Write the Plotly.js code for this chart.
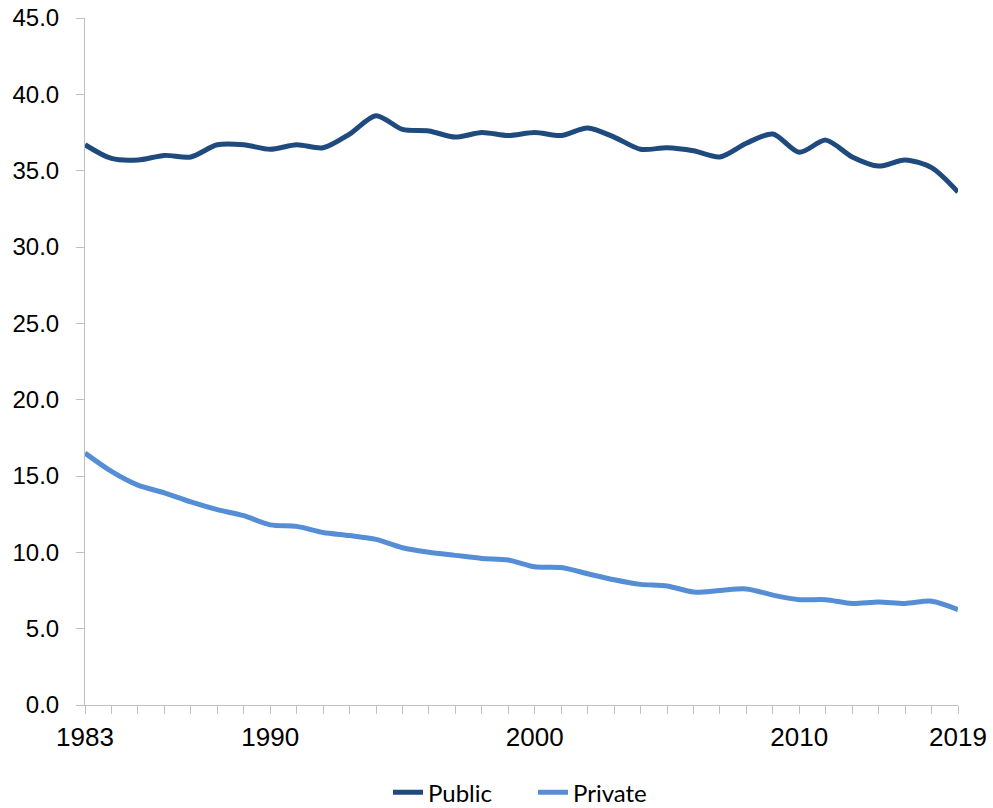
<!DOCTYPE html>
<html>
<head>
<meta charset="utf-8">
<script src="https://cdn.plot.ly/plotly-3.0.1.min.js"></script>
<style>html,body{margin:0;padding:0;background:#fff;}#chart{width:993px;height:808px;}</style>
</head>
<body>
<div id="chart"></div>
<script>
const categories = ['1983','1984','1985','1986','1987','1988','1989','1990','1991','1992','1993','1994','1995','1996','1997','1998','1999','2000','2001','2002','2003','2004','2005','2006','2007','2008','2009','2010','2011','2012','2013','2014','2015','2019'];
const publicValues = [36.7,35.8,35.7,36.0,35.9,36.7,36.7,36.4,36.7,36.5,37.4,38.6,37.7,37.6,37.2,37.5,37.3,37.5,37.3,37.8,37.2,36.4,36.5,36.3,35.9,36.8,37.4,36.2,37.0,35.9,35.3,35.7,35.2,33.6];
const privateValues = [16.5,15.3,14.4,13.9,13.3,12.8,12.4,11.8,11.7,11.3,11.1,10.85,10.3,10.0,9.8,9.6,9.5,9.05,9.0,8.6,8.2,7.9,7.8,7.4,7.5,7.6,7.2,6.9,6.9,6.65,6.75,6.65,6.8,6.25];
const labeledYears = ['1983','1990','2000','2010','2019'];
const yTicks = [0,5,10,15,20,25,30,35,40,45];

const tickText = categories.map(c => labeledYears.includes(c) ? c : '');

const traces = [
  {x: categories, y: publicValues, name: 'Public', type: 'scatter', mode: 'lines',
   line: {color: '#1F4A7E', width: 5, shape: 'spline', smoothing: 0.8}},
  {x: categories, y: privateValues, name: 'Private', type: 'scatter', mode: 'lines',
   line: {color: '#558ED5', width: 5, shape: 'spline', smoothing: 0.8}}
];

const layout = {
  width: 993, height: 808,
  margin: {l: 85, r: 35, t: 18, b: 103, autoexpand: false},
  paper_bgcolor: '#ffffff', plot_bgcolor: '#ffffff',
  font: {family: 'Liberation Sans, Arial, sans-serif', color: '#000'},
  showlegend: true,
  legend: {orientation: 'h', x: 388 / 993, xanchor: 'left', xref: 'container', y: 0.019, yanchor: 'middle', yref: 'container',
           entrywidth: 100, entrywidthmode: 'pixels',
           font: {family: 'Lato, Carlito, sans-serif', size: 24, color: '#000'}, traceorder: 'normal'},
  xaxis: {
    type: 'category', range: [0, 33], tickmode: 'array', tickvals: categories, ticktext: tickText,
    showgrid: false, zeroline: false, showline: true, linecolor: '#BFBFBF', linewidth: 1,
    ticks: 'outside', ticklen: 8, tickcolor: '#BFBFBF', tickwidth: 1, automargin: false,
    tickfont: {size: 26, color: '#000'}, tickangle: 0, ticklabelstandoff: 1
  },
  yaxis: {
    range: [0, 45], tickmode: 'array', tickvals: yTicks, tickformat: '.1f', automargin: false,
    showgrid: false, zeroline: false, showline: true, linecolor: '#BFBFBF', linewidth: 1,
    ticks: 'outside', ticklen: 8, tickcolor: '#BFBFBF', tickwidth: 1,
    tickfont: {size: 24, color: '#000'}, ticklabelstandoff: 12
  }
};

Plotly.newPlot('chart', traces, layout, {displayModeBar: false, staticPlot: true});
</script>
</body>
</html>
